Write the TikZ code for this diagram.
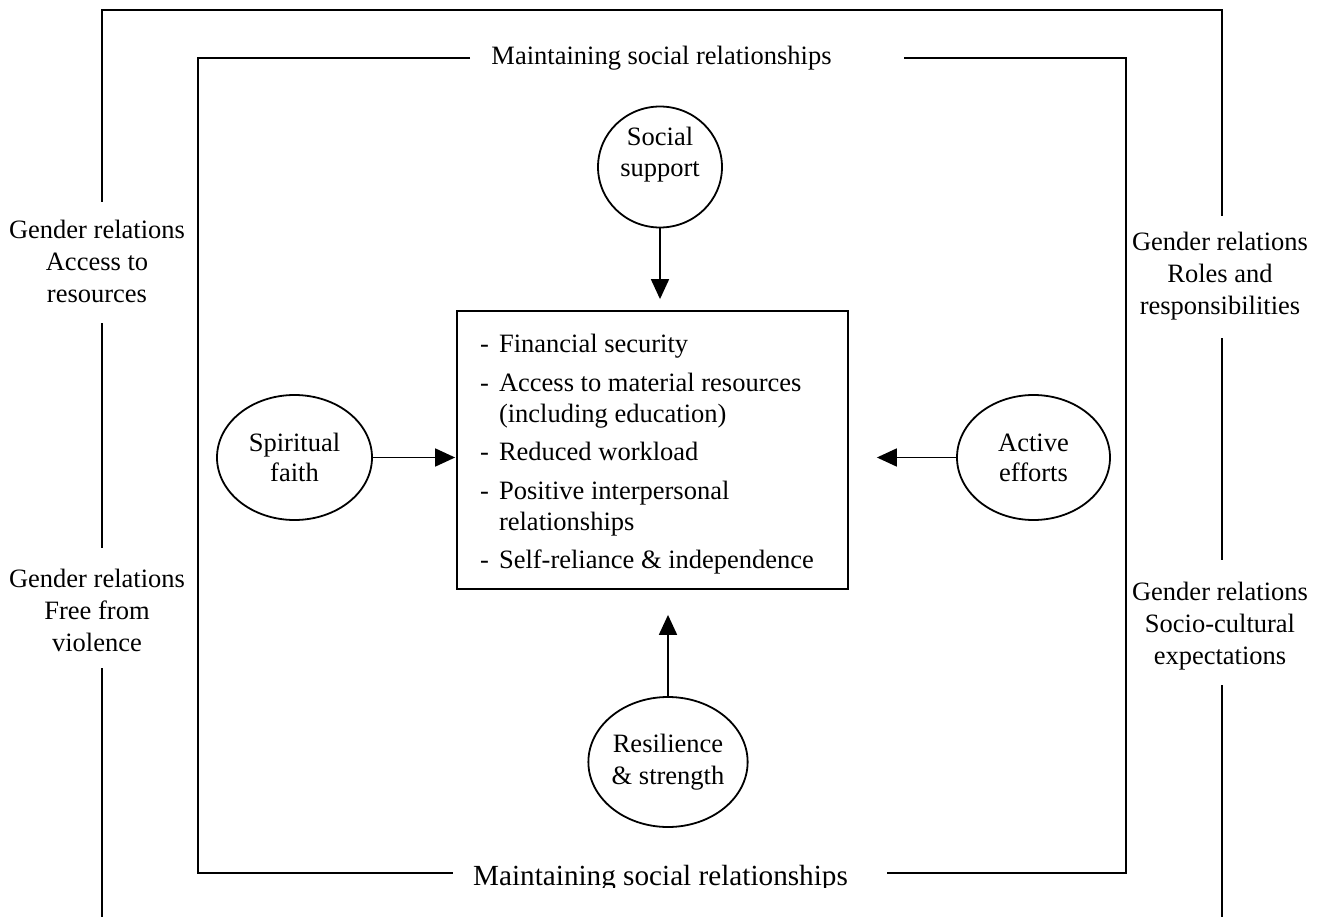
\documentclass[tikz,border=0pt]{standalone}
\usepackage{fontspec}
\setmainfont{Liberation Serif}
\usetikzlibrary{arrows.meta,shapes.geometric}

\begin{document}
\begin{tikzpicture}[x=1pt,y=-1pt,
  frame/.style={line width=2.1pt},
  lbl/.style={align=center,inner sep=0pt,font=\fontsize{26.5}{32}\selectfont},
  oval/.style={draw,ellipse,line width=1.8pt,inner sep=0pt},
  arr/.style={line width=1.8pt,-{Triangle[length=20pt,width=18pt]}},
]
\useasboundingbox (0,0) rectangle (1330,917);

% outer frame, broken by the side labels
\coordinate (oTL) at (101.7,10);
\coordinate (oTR) at (1222,10);
\draw[frame] (101.7,202) -- (oTL) -- (oTR) -- (1222,216);
\draw[frame] (101.7,323) -- (101.7,548);
\draw[frame] (101.7,668) -- (101.7,917);
\draw[frame] (1222,338) -- (1222,560);
\draw[frame] (1222,685) -- (1222,917);

% inner frame, broken by the top and bottom titles
\draw[frame] (470,57.7) -- (198,57.7) -- (198,873) -- (453,873);
\draw[frame] (904,57.7) -- (1126,57.7) -- (1126,873) -- (887,873);

\node[lbl,anchor=base] (ttop) at (661.5,65) {Maintaining social relationships};
\begin{scope}
  \clip (0,0) rectangle (1330,887);
  \node[inner sep=0pt,anchor=base,font=\fontsize{29.2}{34}\selectfont] (tbot) at (660.5,885)
    {Maintaining social relationships};
\end{scope}

% side labels
\node[lbl] (gl1) at (97,261) {Gender relations\\Access to\\resources};
\node[lbl] (gl2) at (97,610) {Gender relations\\Free from\\violence};
\node[lbl] (gr1) at (1220,276) {Gender relations\\Roles and\\responsibilities};
\node[lbl] (gr2) at (1220,626) {Gender relations\\Socio-cultural\\expectations};

% central box
\node[draw,line width=1.8pt,minimum width=391pt,minimum height=278pt,inner sep=0pt] (box) at (652.5,450) {};
\node[anchor=west,inner sep=0pt,font=\fontsize{26.5}{31}\selectfont] (items) at (480,454.5)
  {\begin{tabular}{@{}l@{\hspace{10pt}}l@{}}
   - & Financial security\\[7.5pt]
   - & Access to material resources\\
     & (including education)\\[7.5pt]
   - & Reduced workload\\[7.5pt]
   - & Positive interpersonal\\
     & relationships\\[7.5pt]
   - & Self-reliance \& independence
   \end{tabular}};

% surrounding factors
\node[oval,minimum width=124pt,minimum height=121pt] (ss) at (660,167) {};
\node[lbl,font=\fontsize{26.5}{31}\selectfont] (sst) at (660,155) {Social\\support};
\node[oval,minimum width=155pt,minimum height=125pt,lbl,font=\fontsize{26.5}{30}\selectfont] (sf) at (294.5,457.5) {Spiritual\\faith};
\node[oval,minimum width=153pt,minimum height=125pt,lbl,font=\fontsize{26.5}{30}\selectfont] (ae) at (1033.5,457.5) {Active\\efforts};
\node[oval,minimum width=123pt,minimum height=130pt,lbl,font=\fontsize{26.5}{32}\selectfont] (rs) at (668,762) {Resilience\\\& strength};

% influences on the box
\draw[arr,shorten >=11pt] (ss.south) -- (ss.south |- box.north);
\draw[arr,shorten >=25pt] (rs.north) -- (rs.north |- box.south);
\draw[arr,shorten >=1pt] (sf.east) -- (sf.east -| box.west);
\draw[arr,shorten >=28pt] (ae.west) -- (ae.west -| box.east);
\end{tikzpicture}
\end{document}
